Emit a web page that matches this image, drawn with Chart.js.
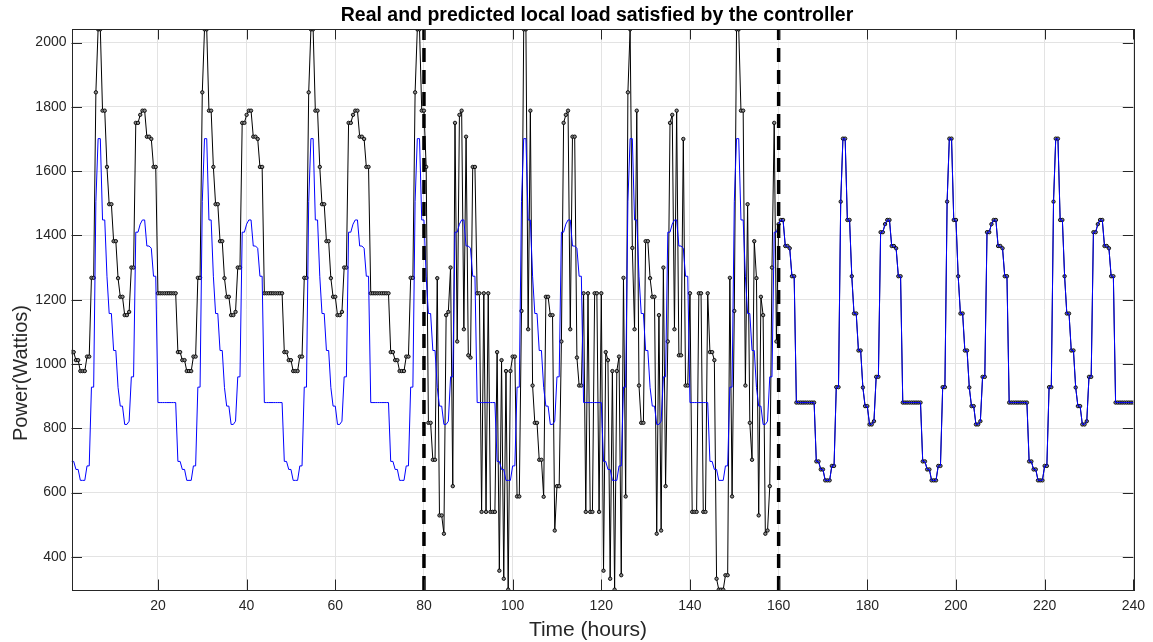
<!DOCTYPE html>
<html>
<head>
<meta charset="utf-8">
<title>Real and predicted local load</title>
<script src="https://cdn.jsdelivr.net/npm/chart.js@4.4.1/dist/chart.umd.min.js"></script>
<style>
  html, body { margin: 0; padding: 0; background: #fff; }
  #wrap { position: relative; width: 1153px; height: 642px; }
  .lbl { position: absolute; white-space: nowrap; font-family: "Liberation Sans", Arial, sans-serif; line-height: 1; }
  #title { left: 597px; top: 15px; transform: translate(-50%, -50%); font-weight: bold; font-size: 19.5px; color: #000; }
  #xlabel { left: 588px; top: 628px; transform: translate(-50%, -50%); font-size: 21px; color: #262626; }
  #ylabel { left: 20px; top: 373px; transform: translate(-50%, -50%) rotate(-90deg); font-size: 20px; color: #262626; }
</style>
</head>
<body>
<div id="wrap">
  <canvas id="load-chart" width="1153" height="642"></canvas>
  <div class="lbl" id="title">Real and predicted local load satisfied by the controller</div>
  <div class="lbl" id="xlabel">Time (hours)</div>
  <div class="lbl" id="ylabel">Power(Wattios)</div>
</div>
<script>
// half-hour samples, 10 days
const hours = Array.from({ length: 480 }, (_, i) => (i + 1) / 2);

// real load (black), one row per day
const realLoad = [
  1037,1037,1012,1012,978,978,978,1023,1023,1268,1268,1845,2041,2041,1788,1788,1613,1497,1497,1382,1382,1267,1209,1209,1152,1152,1162,1300,1300,1750,1750,1775,1788,1788,1707,1707,1700,1613,1613,1220,1220,1220,1220,1220,1220,1220,1220,1220,
  1037,1037,1012,1012,978,978,978,1023,1023,1268,1268,1845,2041,2041,1788,1788,1613,1497,1497,1382,1382,1267,1209,1209,1152,1152,1162,1300,1300,1750,1750,1775,1788,1788,1707,1707,1700,1613,1613,1220,1220,1220,1220,1220,1220,1220,1220,1220,
  1037,1037,1012,1012,978,978,978,1023,1023,1268,1268,1845,2041,2041,1788,1788,1613,1497,1497,1382,1382,1267,1209,1209,1152,1152,1162,1300,1300,1750,1750,1775,1788,1788,1707,1707,1700,1613,1613,1220,1220,1220,1220,1220,1220,1220,1220,1220,
  1037,1037,1012,1012,978,978,978,1023,1023,1268,1268,1845,2041,2041,1788,1788,1613,817,817,702,702,1267,529,529,472,1152,1162,1300,620,1750,1070,1775,1788,1108,1707,1027,1020,1613,1613,1220,1220,540,1220,540,1220,540,540,540,
  1037,357,1012,332,978,298,978,1023,1023,588,588,1165,2041,2041,1108,1788,933,817,817,702,702,587,1209,1209,1152,1152,482,620,620,1070,1750,1775,1788,1108,1707,1707,1020,933,933,1220,540,1220,540,540,1220,1220,540,1220,
  357,1037,1012,332,978,298,978,1023,343,1268,588,1845,2041,1361,1108,1788,933,817,817,1382,1382,1267,1209,1209,472,1152,482,1300,620,1070,1750,1775,1108,1788,1027,1027,1700,933,933,1220,540,540,540,1220,1220,540,540,1220,
  1037,1037,1012,332,298,298,298,343,343,1268,588,1165,2041,2041,1788,1788,933,1497,817,702,1382,1267,529,1209,1152,472,482,620,1300,1750,1070,1435,1448,1448,1367,1367,1360,1273,1273,880,880,880,880,880,880,880,880,880,
  697,697,672,672,638,638,638,683,683,928,928,1505,1701,1701,1448,1448,1273,1157,1157,1042,1042,927,869,869,812,812,822,960,960,1410,1410,1435,1448,1448,1367,1367,1360,1273,1273,880,880,880,880,880,880,880,880,880,
  697,697,672,672,638,638,638,683,683,928,928,1505,1701,1701,1448,1448,1273,1157,1157,1042,1042,927,869,869,812,812,822,960,960,1410,1410,1435,1448,1448,1367,1367,1360,1273,1273,880,880,880,880,880,880,880,880,880,
  697,697,672,672,638,638,638,683,683,928,928,1505,1701,1701,1448,1448,1273,1157,1157,1042,1042,927,869,869,812,812,822,960,960,1410,1410,1435,1448,1448,1367,1367,1360,1273,1273,880,880,880,880,880,880,880,880,880
];

// predicted load (blue), one row per day
const predictedLoad = [
  697,697,672,672,638,638,638,683,683,928,928,1505,1701,1701,1448,1448,1273,1157,1157,1042,1042,927,869,869,812,812,822,960,960,1410,1410,1435,1448,1448,1367,1367,1360,1273,1273,880,880,880,880,880,880,880,880,880,
  697,697,672,672,638,638,638,683,683,928,928,1505,1701,1701,1448,1448,1273,1157,1157,1042,1042,927,869,869,812,812,822,960,960,1410,1410,1435,1448,1448,1367,1367,1360,1273,1273,880,880,880,880,880,880,880,880,880,
  697,697,672,672,638,638,638,683,683,928,928,1505,1701,1701,1448,1448,1273,1157,1157,1042,1042,927,869,869,812,812,822,960,960,1410,1410,1435,1448,1448,1367,1367,1360,1273,1273,880,880,880,880,880,880,880,880,880,
  697,697,672,672,638,638,638,683,683,928,928,1505,1701,1701,1448,1448,1273,1157,1157,1042,1042,927,869,869,812,812,822,960,960,1410,1410,1435,1448,1448,1367,1367,1360,1273,1273,880,880,880,880,880,880,880,880,880,
  697,697,672,672,638,638,638,683,683,928,928,1505,1701,1701,1448,1448,1273,1157,1157,1042,1042,927,869,869,812,812,822,960,960,1410,1410,1435,1448,1448,1367,1367,1360,1273,1273,880,880,880,880,880,880,880,880,880,
  697,697,672,672,638,638,638,683,683,928,928,1505,1701,1701,1448,1448,1273,1157,1157,1042,1042,927,869,869,812,812,822,960,960,1410,1410,1435,1448,1448,1367,1367,1360,1273,1273,880,880,880,880,880,880,880,880,880,
  697,697,672,672,638,638,638,683,683,928,928,1505,1701,1701,1448,1448,1273,1157,1157,1042,1042,927,869,869,812,812,822,960,960,1410,1410,1435,1448,1448,1367,1367,1360,1273,1273,880,880,880,880,880,880,880,880,880,
  697,697,672,672,638,638,638,683,683,928,928,1505,1701,1701,1448,1448,1273,1157,1157,1042,1042,927,869,869,812,812,822,960,960,1410,1410,1435,1448,1448,1367,1367,1360,1273,1273,880,880,880,880,880,880,880,880,880,
  697,697,672,672,638,638,638,683,683,928,928,1505,1701,1701,1448,1448,1273,1157,1157,1042,1042,927,869,869,812,812,822,960,960,1410,1410,1435,1448,1448,1367,1367,1360,1273,1273,880,880,880,880,880,880,880,880,880,
  697,697,672,672,638,638,638,683,683,928,928,1505,1701,1701,1448,1448,1273,1157,1157,1042,1042,927,869,869,812,812,822,960,960,1410,1410,1435,1448,1448,1367,1367,1360,1273,1273,880,880,880,880,880,880,880,880,880
];

// phase boundaries (dashed lines)
const dividerHours = [80, 160];

const xTicks = [20, 40, 60, 80, 100, 120, 140, 160, 180, 200, 220, 240];
const yTicks = [400, 600, 800, 1000, 1200, 1400, 1600, 1800, 2000];
const xMin = 0.5, xMax = 240;
const yMin = 297, yMax = 2042;

const FONT = '"Liberation Sans", Arial, sans-serif';
const AXIS_COLOR = '#262626';

// white background + MATLAB-like box with inner ticks
const boxPlugin = {
    id: 'box',
    beforeDraw(chart) {
        const ctx = chart.ctx;
        ctx.save();
        ctx.fillStyle = '#fff';
        ctx.fillRect(0, 0, chart.width, chart.height);
        ctx.restore();
    },
    afterDatasetsDraw(chart) {
        const { ctx, chartArea: a, scales: { x, y } } = chart;
        const len = 10.5;
        ctx.save();
        ctx.strokeStyle = AXIS_COLOR;
        ctx.lineWidth = 1;
        ctx.beginPath();
        xTicks.forEach(v => {
            const px = Math.round(x.getPixelForValue(v)) + 0.5;
            ctx.moveTo(px, a.bottom); ctx.lineTo(px, a.bottom - len);
            ctx.moveTo(px, a.top); ctx.lineTo(px, a.top + len);
        });
        yTicks.forEach(v => {
            const py = Math.round(y.getPixelForValue(v)) + 0.5;
            ctx.moveTo(a.left, py); ctx.lineTo(a.left + len, py);
            ctx.moveTo(a.right, py); ctx.lineTo(a.right - len, py);
        });
        ctx.stroke();
        ctx.strokeRect(Math.round(a.left) + 0.5, Math.round(a.top) + 0.5,
            Math.round(a.right - a.left), Math.round(a.bottom - a.top));
        ctx.restore();
    }
};

const ctx = document.getElementById('load-chart').getContext('2d');

new Chart(ctx, {
    type: 'line',
    data: {
        datasets: [
            {
                label: 'Predicted',
                data: hours.map((h, i) => ({ x: h, y: predictedLoad[i] })),
                borderColor: '#0000ff',
                borderWidth: 1,
                pointRadius: 0,
                tension: 0,
                order: 1
            },
            {
                label: 'Real',
                data: hours.map((h, i) => ({ x: h, y: realLoad[i] })),
                borderColor: '#000',
                borderWidth: 1,
                pointRadius: 1.7,
                pointBorderWidth: 0.9,
                pointBorderColor: '#000',
                pointBackgroundColor: '#8a8a8a',
                tension: 0,
                order: 2
            },
            ...dividerHours.map(h => ({
                label: 'limit ' + h,
                data: [{ x: h, y: yMin }, { x: h, y: yMax }],
                borderColor: '#000',
                borderWidth: 3.5,
                borderDash: [14, 8],
                pointRadius: 0,
                order: 0
            }))
        ]
    },
    options: {
        responsive: false,
        animation: false,
        events: [],
        layout: { padding: { top: 29, right: 18, left: 0, bottom: 0 } },
        plugins: {
            legend: { display: false },
            title: { display: false },
            tooltip: { enabled: false }
        },
        scales: {
            x: {
                type: 'linear',
                min: xMin,
                max: xMax,
                afterBuildTicks: s => { s.ticks = xTicks.map(v => ({ value: v })); },
                afterFit: s => { s.height = 52; },
                grid: { color: '#e3e3e3', drawTicks: false },
                border: { display: false },
                ticks: {
                    font: { family: FONT, size: 14 },
                    color: AXIS_COLOR,
                    padding: 8,
                    maxRotation: 0,
                    autoSkip: false,
                    callback: v => String(v)
                }
            },
            y: {
                min: yMin,
                max: yMax,
                afterBuildTicks: s => { s.ticks = yTicks.map(v => ({ value: v })); },
                afterFit: s => { s.width = 71.5; },
                grid: { color: '#e3e3e3', drawTicks: false },
                border: { display: false },
                ticks: {
                    font: { family: FONT, size: 14 },
                    color: AXIS_COLOR,
                    padding: 5,
                    callback: v => String(v)
                }
            }
        }
    },
    plugins: [boxPlugin]
});
</script>
</body>
</html>
